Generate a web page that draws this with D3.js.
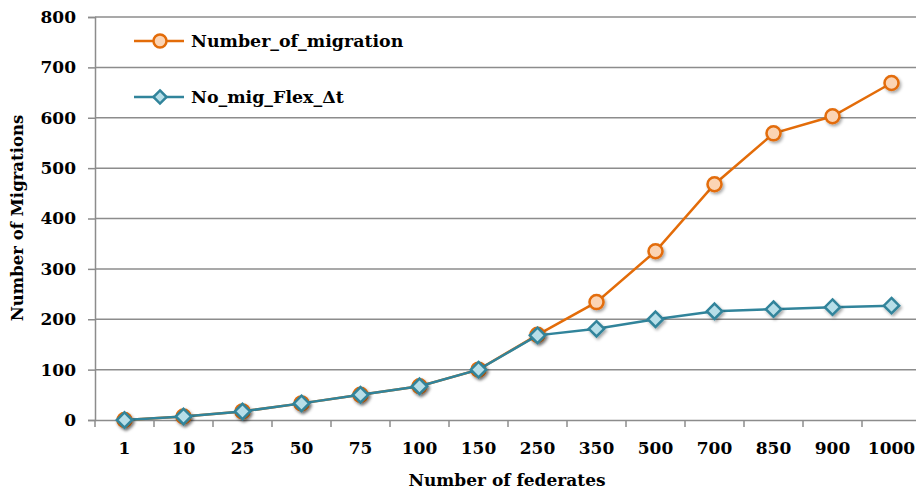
<!DOCTYPE html>
<html><head><meta charset="utf-8">
<script src="https://cdn.jsdelivr.net/npm/d3@7"></script>
<style>
html,body{margin:0;padding:0;background:#fff;}
svg{display:block;}
text{font-family:"DejaVu Serif",serif;font-weight:bold;fill:#000;}
</style></head>
<body>
<script>
const categories = ["1","10","25","50","75","100","150","250","350","500","700","850","900","1000"];
const migration = [0,7,17,33,50,67,100,169,234,335,468,569,603,669];
const flexDt = [0,7,17,33,50,67,100,168,181,200,216,220,224,227];
const yTicks = [0,100,200,300,400,500,600,700,800];
const seriesNames = ["Number_of_migration","No_mig_Flex_\u0394t"];

const W = 916, H = 492;
const svg = d3.select("body").append("svg").attr("width", W).attr("height", H);

const defs = svg.append("defs");
const f = defs.append("filter").attr("id","sh").attr("x","-50%").attr("y","-50%").attr("width","200%").attr("height","200%");
f.append("feDropShadow").attr("dx",1.5).attr("dy",2).attr("stdDeviation",1.5).attr("flood-color","#000").attr("flood-opacity",0.35);

const x = d3.scaleBand().domain(categories).range([95, 921]);
const y = d3.scaleLinear().domain([0, 800]).range([420, 17]);

// gridlines
svg.append("g").selectAll("line").data(yTicks.filter(d => d > 0)).join("line")
  .attr("x1", 95).attr("x2", W).attr("y1", d => y(d)).attr("y2", d => y(d))
  .attr("stroke", "#8c8c8c").attr("stroke-width", 1.5);

// y axis
const ya = svg.append("g").attr("transform", "translate(95,0)")
  .call(d3.axisLeft(y).tickValues(yTicks).tickSize(7).tickPadding(12));
ya.select(".domain").attr("stroke", "#8c8c8c").attr("stroke-width", 1.5);
ya.selectAll(".tick line").attr("stroke", "#8c8c8c").attr("stroke-width", 1.5);
ya.selectAll(".tick text").style("font-size", "17px").style("font-family", "DejaVu Serif").style("font-weight", "bold");

// x axis
const xa = svg.append("g").attr("transform", "translate(0,420)")
  .call(d3.axisBottom(x).tickSize(0).tickPadding(22));
xa.select(".domain").attr("stroke", "#8c8c8c").attr("stroke-width", 1.5);
xa.selectAll(".tick text").style("font-size", "17px").style("font-family", "DejaVu Serif").style("font-weight", "bold");
// boundary tick marks
svg.append("g").selectAll("line").data(categories).join("line")
  .attr("x1", d => x(d)).attr("x2", d => x(d)).attr("y1", 420).attr("y2", 427)
  .attr("stroke", "#8c8c8c").attr("stroke-width", 1.5);

// titles
svg.append("text").attr("x", 507).attr("y", 486).attr("text-anchor", "middle")
  .style("font-size", "17px").text("Number of federates");
svg.append("text").attr("transform", "translate(23,218) rotate(-90)").attr("text-anchor", "middle")
  .style("font-size", "16.5px").text("Number of Migrations");

const cx = d => x(d) + x.bandwidth() / 2;
const line = d3.line().x((d, i) => cx(categories[i])).y(d => y(d));

// orange series
svg.append("path").datum(migration).attr("d", line).attr("fill", "none")
  .attr("stroke", "#e36c09").attr("stroke-width", 2.5);
svg.append("g").attr("filter","url(#sh)").selectAll("circle").data(migration).join("circle")
  .attr("cx", (d, i) => cx(categories[i])).attr("cy", d => y(d)).attr("r", 7)
  .attr("fill", "#fbd4b4").attr("stroke", "#e36c09").attr("stroke-width", 2.5);

// teal series
const diamond = d3.symbol().type(d3.symbolDiamond2).size(150);
svg.append("path").datum(flexDt).attr("d", line).attr("fill", "none")
  .attr("stroke", "#31849b").attr("stroke-width", 2.5);
svg.append("g").attr("filter","url(#sh)").selectAll("path").data(flexDt).join("path")
  .attr("d", diamond)
  .attr("transform", (d, i) => `translate(${cx(categories[i])},${y(d)})`)
  .attr("fill", "#b7dee8").attr("stroke", "#31849b").attr("stroke-width", 2.5);

// legend
const lg = svg.append("g");
const ly = [41, 97];
lg.append("line").attr("x1", 134).attr("x2", 184).attr("y1", ly[0]).attr("y2", ly[0]).attr("stroke", "#e36c09").attr("stroke-width", 2.5);
lg.append("circle").attr("cx", 160).attr("cy", ly[0]).attr("r", 6.5).attr("fill", "#fbd4b4").attr("stroke", "#e36c09").attr("stroke-width", 2.5);
lg.append("line").attr("x1", 134).attr("x2", 184).attr("y1", ly[1]).attr("y2", ly[1]).attr("stroke", "#31849b").attr("stroke-width", 2.5);
lg.append("path").attr("d", d3.symbol().type(d3.symbolDiamond2).size(110)).attr("transform", `translate(160,${ly[1]})`)
  .attr("fill", "#b7dee8").attr("stroke", "#31849b").attr("stroke-width", 2.5);
lg.selectAll("text").data(seriesNames).join("text")
  .attr("x", 191).attr("y", (d, i) => ly[i] + 6).style("font-size", "17.4px").text(d => d);
</script>
</body></html>
